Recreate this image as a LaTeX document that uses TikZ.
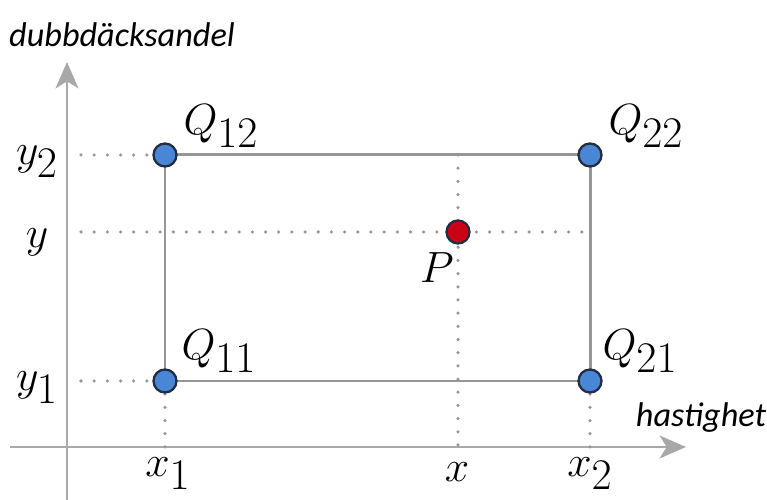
\documentclass[tikz,border=0pt]{standalone}
\usepackage{amsmath, amssymb}
\usepackage{fontspec}
\newfontfamily\labelfont{Carlito}
\usepackage{xcolor}
\usepackage{tikz}
\usetikzlibrary{arrows.meta, positioning, calc}

\definecolor{axisgray}{RGB}{168,168,168}
\definecolor{linegray}{RGB}{150,150,150}
\definecolor{dotblue}{RGB}{74,134,214}
\definecolor{dotred}{RGB}{204,0,20}
\definecolor{rimdark}{RGB}{35,45,65}

\tikzset{
  axis/.style={axisgray, line width=1.6pt, -{Stealth[length=15pt, width=13pt, inset=4pt]}},
  edge/.style={linegray, line width=1.7pt},
  guide/.style={linegray, line width=2pt, line cap=round, dash pattern=on 0pt off 7.5pt},
  gridpt/.style={circle, draw=rimdark, line width=1.3pt, fill=dotblue, inner sep=0pt, minimum size=0.46cm},
  target/.style={gridpt, fill=dotred},
  mathlbl/.style={font=\fontsize{37}{42}\selectfont, inner sep=0pt},
  titlelbl/.style={font=\fontsize{19.5}{24}\selectfont\labelfont\itshape, inner sep=0pt}
}

\begin{document}
\begin{tikzpicture}
  \useasboundingbox (0,0) rectangle (15.34,10);

  % axes
  \coordinate (origin) at (1.34,1.06);
  \coordinate (ytip)   at (1.34,8.76);
  \coordinate (ybase)  at (1.34,-0.2);
  \coordinate (xtip)   at (13.72,1.06);
  \coordinate (xbase)  at (0.2,1.06);
  \draw[axis] (ybase) -- (ytip);
  \draw[axis] (xbase) -- (xtip);

  % points
  \coordinate (q11) at (3.30,2.38);
  \coordinate (q21) at (11.80,2.38);
  \coordinate (q12) at (3.30,6.90);
  \coordinate (q22) at (11.80,6.90);
  \coordinate (p)   at (9.16,5.36);

  % guides
  \coordinate (ystart) at (1.62,0);
  \draw[guide] (ystart |- q12) -- (q12);
  \draw[guide] (ystart |- p) -- (q22 |- p);
  \draw[guide] (ystart |- q11) -- (q11);
  \draw[guide] (q11) -- (q11 |- origin);
  \draw[guide] (p |- q12) -- (p |- origin);
  \draw[guide] (q21) -- (q21 |- origin);

  % rectangle
  \draw[edge] (q11) -- (q21) -- (q22) -- (q12) -- cycle;

  \node[gridpt] (Q11) at (q11) {};
  \node[gridpt] (Q21) at (q21) {};
  \node[gridpt] (Q12) at (q12) {};
  \node[gridpt] (Q22) at (q22) {};
  \node[target] (P)   at (p)   {};

  % labels
  \node[mathlbl] (lq12) at (4.42,7.48) {$Q_{12}$};
  \node[mathlbl] (lq22) at (12.92,7.48) {$Q_{22}$};
  \node[mathlbl] (lq11) at (4.38,2.98) {$Q_{11}$};
  \node[mathlbl] (lq21) at (12.80,2.98) {$Q_{21}$};
  \node[mathlbl] (lp)   at (8.74,4.64) {$P$};

  \node[mathlbl] (ly2) at (0.74,6.76) {$y_2$};
  \node[mathlbl] (ly)  at (0.74,5.16) {$y$};
  \node[mathlbl] (ly1) at (0.74,2.24) {$y_1$};
  \node[mathlbl] (lx1) at (3.36,0.52) {$x_1$};
  \node[mathlbl] (lx)  at (9.14,0.56) {$x$};
  \node[mathlbl] (lx2) at (11.80,0.52) {$x_2$};

  \node[titlelbl] (ytitle) at (2.44,9.30) {dubbdäcksandel};
  \node[titlelbl] (xtitle) at (14.02,1.64) {hastighet};
\end{tikzpicture}
\end{document}
